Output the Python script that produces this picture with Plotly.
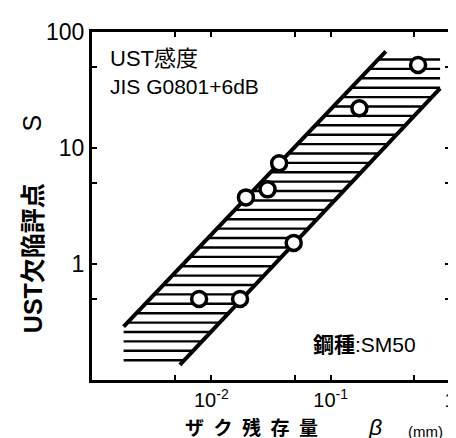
import numpy as np
import plotly.graph_objects as go

# measured data points (beta in mm, UST defect score S)
beta = [0.0079, 0.0174, 0.0195, 0.0296, 0.037, 0.049, 0.174, 0.54]
score = [0.5, 0.5, 3.75, 4.4, 7.4, 1.52, 22, 52]

# scatter band boundary lines
upper_x = [0.00184, 0.29]
upper_y = [0.289, 68]
lower_x = [0.00545, 0.826]
lower_y = [0.135, 32.6]

x_tickvals = [0.005, 0.01, 0.05, 0.1, 0.5, 1]
x_ticktext = ["", "10<sup>-2</sup>", "", "10<sup>-1</sup>", "", "1"]
y_tickvals = [0.5, 1, 5, 10, 50, 100]
y_ticktext = ["", "1", "", "10", "", "100"]

FONT = "Liberation Sans, Noto Sans CJK JP, sans-serif"
CJK = "Noto Sans CJK JP, sans-serif"

# horizontal hatching of the band, spaced evenly in log(S)
HATCH_STEP = 0.081  # decades
lux, luy = np.log10(upper_x), np.log10(upper_y)
llx, lly = np.log10(lower_x), np.log10(lower_y)
levels = np.arange(lly[0] + HATCH_STEP * 0.5, luy[1], HATCH_STEP)
hx, hy = [], []
for L in levels:
    xl = np.interp(L, luy, lux)
    xr = np.interp(L, lly, llx)
    hx += [10 ** xl, 10 ** xr, None]
    hy += [10 ** L, 10 ** L, None]

fig = go.Figure()
fig.add_trace(go.Scatter(x=hx, y=hy, mode="lines", line=dict(color="black", width=2.4),
                         hoverinfo="skip", showlegend=False))
fig.add_trace(go.Scatter(x=upper_x, y=upper_y, mode="lines",
                         line=dict(color="black", width=4), showlegend=False))
fig.add_trace(go.Scatter(x=lower_x, y=lower_y, mode="lines",
                         line=dict(color="black", width=4), showlegend=False))
fig.add_trace(go.Scatter(x=beta, y=score, mode="markers",
                         marker=dict(symbol="circle", size=15, color="white",
                                     line=dict(color="black", width=3.5)),
                         showlegend=False))

axis_common = dict(showgrid=False, zeroline=False, showline=True, linewidth=3,
                   linecolor="black", mirror="ticks", ticks="inside", ticklen=5,
                   tickwidth=2, tickcolor="black")

fig.update_xaxes(type="log", range=[-3, 0], tickvals=x_tickvals, ticktext=x_ticktext,
                 tickfont=dict(family=FONT, size=20, color="black"), **axis_common)
fig.update_yaxes(type="log", range=[-1, 2], tickvals=y_tickvals, ticktext=y_ticktext,
                 tickfont=dict(family=FONT, size=23, color="black"), **axis_common)

ann = [
    dict(text="UST感度", x=0.044, y=0.925, xanchor="left", yanchor="middle",
         font=dict(family=FONT, size=22, color="black")),
    dict(text="JIS G0801+6dB", x=0.044, y=0.842, xanchor="left", yanchor="middle",
         font=dict(family=FONT, size=21, color="black")),
    dict(text="<b>鋼種</b>:SM50", x=0.912, y=0.103, xanchor="right", yanchor="middle",
         font=dict(family=FONT, size=21, color="black")),
    dict(text="<b>UST欠陥評点</b>", x=-0.165, y=0.35, textangle=-90, xanchor="center", yanchor="middle",
         font=dict(family=FONT, size=25, color="black")),
    dict(text="S", x=-0.165, y=0.74, textangle=-90, xanchor="center", yanchor="middle",
         font=dict(family=FONT, size=25, color="black")),
    dict(text="<b>ザ\u2002ク\u2002残\u2002存\u2002量</b>", x=0.445, y=-0.178, xanchor="center", yanchor="bottom",
         font=dict(family=CJK, size=19, color="black")),
    dict(text="<i>β</i>", x=0.79, y=-0.178, xanchor="center", yanchor="bottom",
         font=dict(family=FONT, size=23, color="black")),
    dict(text="(mm)", x=0.931, y=-0.178, xanchor="center", yanchor="bottom",
         font=dict(family=FONT, size=15, color="black")),
]
for a in ann:
    a.update(xref="paper", yref="paper", showarrow=False)
fig.update_layout(annotations=ann)

fig.update_layout(width=456, height=438, margin=dict(l=84, r=8, t=24, b=66),
                  paper_bgcolor="white", plot_bgcolor="white")

fig.write_html("out.html")
